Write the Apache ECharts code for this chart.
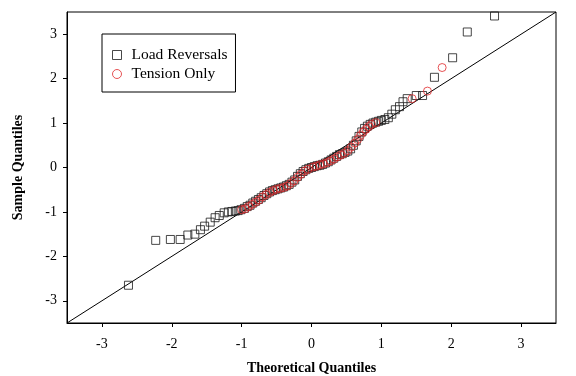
<!DOCTYPE html>
<html>
<head>
<meta charset="utf-8">
<script src="https://cdn.jsdelivr.net/npm/echarts@6/dist/echarts.min.js"></script>
<style>html,body{margin:0;padding:0;background:#fff}#c{width:576px;height:376px}</style>
</head>
<body>
<div id="c"></div>
<script>
// Load Reversals: theoretical vs sample quantiles
var lrTheo = [-2.62,-2.23,-2.02,-1.88,-1.77,-1.67,-1.59,-1.53,-1.45,-1.38,-1.32,-1.25,-1.19,-1.14,-1.09,-1.05,-1.01,-0.96,-0.92,-0.88,-0.84,-0.80,-0.76,-0.72,-0.68,-0.64,-0.60,-0.56,-0.52,-0.48,-0.44,-0.40,-0.36,-0.32,-0.28,-0.24,-0.20,-0.16,-0.12,-0.08,-0.04,0.00,0.04,0.08,0.12,0.16,0.20,0.24,0.28,0.32,0.36,0.40,0.44,0.48,0.52,0.56,0.60,0.64,0.68,0.72,0.76,0.80,0.84,0.88,0.92,0.96,1.00,1.05,1.10,1.15,1.20,1.26,1.31,1.37,1.50,1.59,1.76,2.02,2.23,2.62];
var lrSample = [-2.65,-1.64,-1.62,-1.62,-1.52,-1.50,-1.40,-1.32,-1.23,-1.13,-1.08,-1.02,-1.00,-0.99,-0.98,-0.97,-0.95,-0.92,-0.88,-0.85,-0.80,-0.76,-0.72,-0.68,-0.63,-0.59,-0.55,-0.52,-0.50,-0.48,-0.46,-0.44,-0.41,-0.38,-0.33,-0.28,-0.20,-0.14,-0.09,-0.05,-0.02,0.00,0.02,0.04,0.05,0.07,0.10,0.13,0.17,0.21,0.25,0.29,0.31,0.34,0.37,0.42,0.50,0.60,0.70,0.80,0.88,0.93,0.97,1.00,1.02,1.04,1.06,1.08,1.12,1.20,1.30,1.37,1.48,1.55,1.62,1.62,2.03,2.47,3.05,3.41];
// Tension Only
var toTheo = [-1.00,-0.95,-0.90,-0.85,-0.80,-0.75,-0.70,-0.65,-0.60,-0.55,-0.50,-0.45,-0.40,-0.35,-0.30,-0.25,-0.20,-0.15,-0.10,-0.05,0.02,0.07,0.12,0.17,0.22,0.27,0.32,0.37,0.42,0.47,0.52,0.57,0.62,0.66,0.70,0.74,0.78,0.82,0.86,0.92,1.44,1.66,1.87];
var toSample = [-0.95,-0.93,-0.88,-0.83,-0.78,-0.73,-0.66,-0.61,-0.56,-0.52,-0.49,-0.47,-0.45,-0.42,-0.36,-0.30,-0.22,-0.15,-0.08,-0.04,0.01,0.03,0.06,0.08,0.11,0.15,0.19,0.24,0.28,0.32,0.38,0.46,0.55,0.63,0.72,0.80,0.86,0.92,0.97,1.01,1.55,1.72,2.25];
// reference line y = x
var refX = [-3.5, 3.5];
var refY = [-3.5, 3.5];
var xTicks = [-3,-2,-1,0,1,2,3];
var yTicks = [-3,-2,-1,0,1,2,3];
var seriesNames = ['Load Reversals','Tension Only'];

function zip(a,b){return a.map(function(v,i){return [v,b[i]];});}
var serif = '"Liberation Serif","DejaVu Serif",serif';
var chart = echarts.init(document.getElementById('c'), null, {renderer:'canvas'});
chart.setOption({
  animation:false,
  backgroundColor:'#fff',
  grid:{left:67,right:20,top:12,bottom:53,containLabel:false,outerBoundsMode:'none',
        show:true,borderColor:'#000',borderWidth:1,backgroundColor:'transparent'},
  legend:{
    data:[
      {name:seriesNames[0], icon:'rect', itemStyle:{color:'rgba(0,0,0,0)',borderColor:'#1a1a1a',borderWidth:1}},
      {name:seriesNames[1], icon:'circle', itemStyle:{color:'rgba(0,0,0,0)',borderColor:'#e0282a',borderWidth:1}}
    ],
    orient:'vertical', left:102, top:34,
    borderColor:'#000', borderWidth:1, padding:[13,8,10,10], itemGap:3,
    itemWidth:9, itemHeight:9,
    textStyle:{fontFamily:serif,fontSize:15.5,color:'#000',padding:[0,0,0,5]}
  },
  xAxis:{
    type:'value', min:-3.5, max:3.5,
    name:'Theoretical Quantiles', nameLocation:'middle', nameGap:38,
    nameTextStyle:{fontFamily:serif,fontSize:14,fontWeight:'bold',color:'#000'},
    axisLine:{show:true,onZero:false,lineStyle:{color:'#000',width:1}},
    axisTick:{show:true,inside:false,length:4,customValues:xTicks,lineStyle:{color:'#000'}},
    axisLabel:{customValues:xTicks,margin:14,fontFamily:serif,fontSize:14,color:'#000'},
    splitLine:{show:false}
  },
  yAxis:{
    type:'value', min:-3.5, max:3.5,
    name:'Sample Quantiles', nameLocation:'middle', nameGap:42, nameRotate:90,
    nameTextStyle:{fontFamily:serif,fontSize:14,fontWeight:'bold',color:'#000'},
    axisLine:{show:true,onZero:false,lineStyle:{color:'#000',width:1}},
    axisTick:{show:true,inside:false,length:4,customValues:yTicks,lineStyle:{color:'#000'}},
    axisLabel:{customValues:yTicks,margin:10,fontFamily:serif,fontSize:14,color:'#000'},
    splitLine:{show:false}
  },
  series:[
    {type:'line', data:zip(refX,refY), symbol:'none', silent:true,
     lineStyle:{color:'#000',width:1}, z:1},
    {name:seriesNames[0], type:'scatter', data:zip(lrTheo,lrSample),
     symbol:'rect', symbolSize:8,
     itemStyle:{color:'rgba(0,0,0,0)',borderColor:'#1a1a1a',borderWidth:1}, z:2},
    {name:seriesNames[1], type:'scatter', data:zip(toTheo,toSample),
     symbol:'circle', symbolSize:8,
     itemStyle:{color:'rgba(0,0,0,0)',borderColor:'#e0282a',borderWidth:1}, z:3}
  ]
});
</script>
</body>
</html>
